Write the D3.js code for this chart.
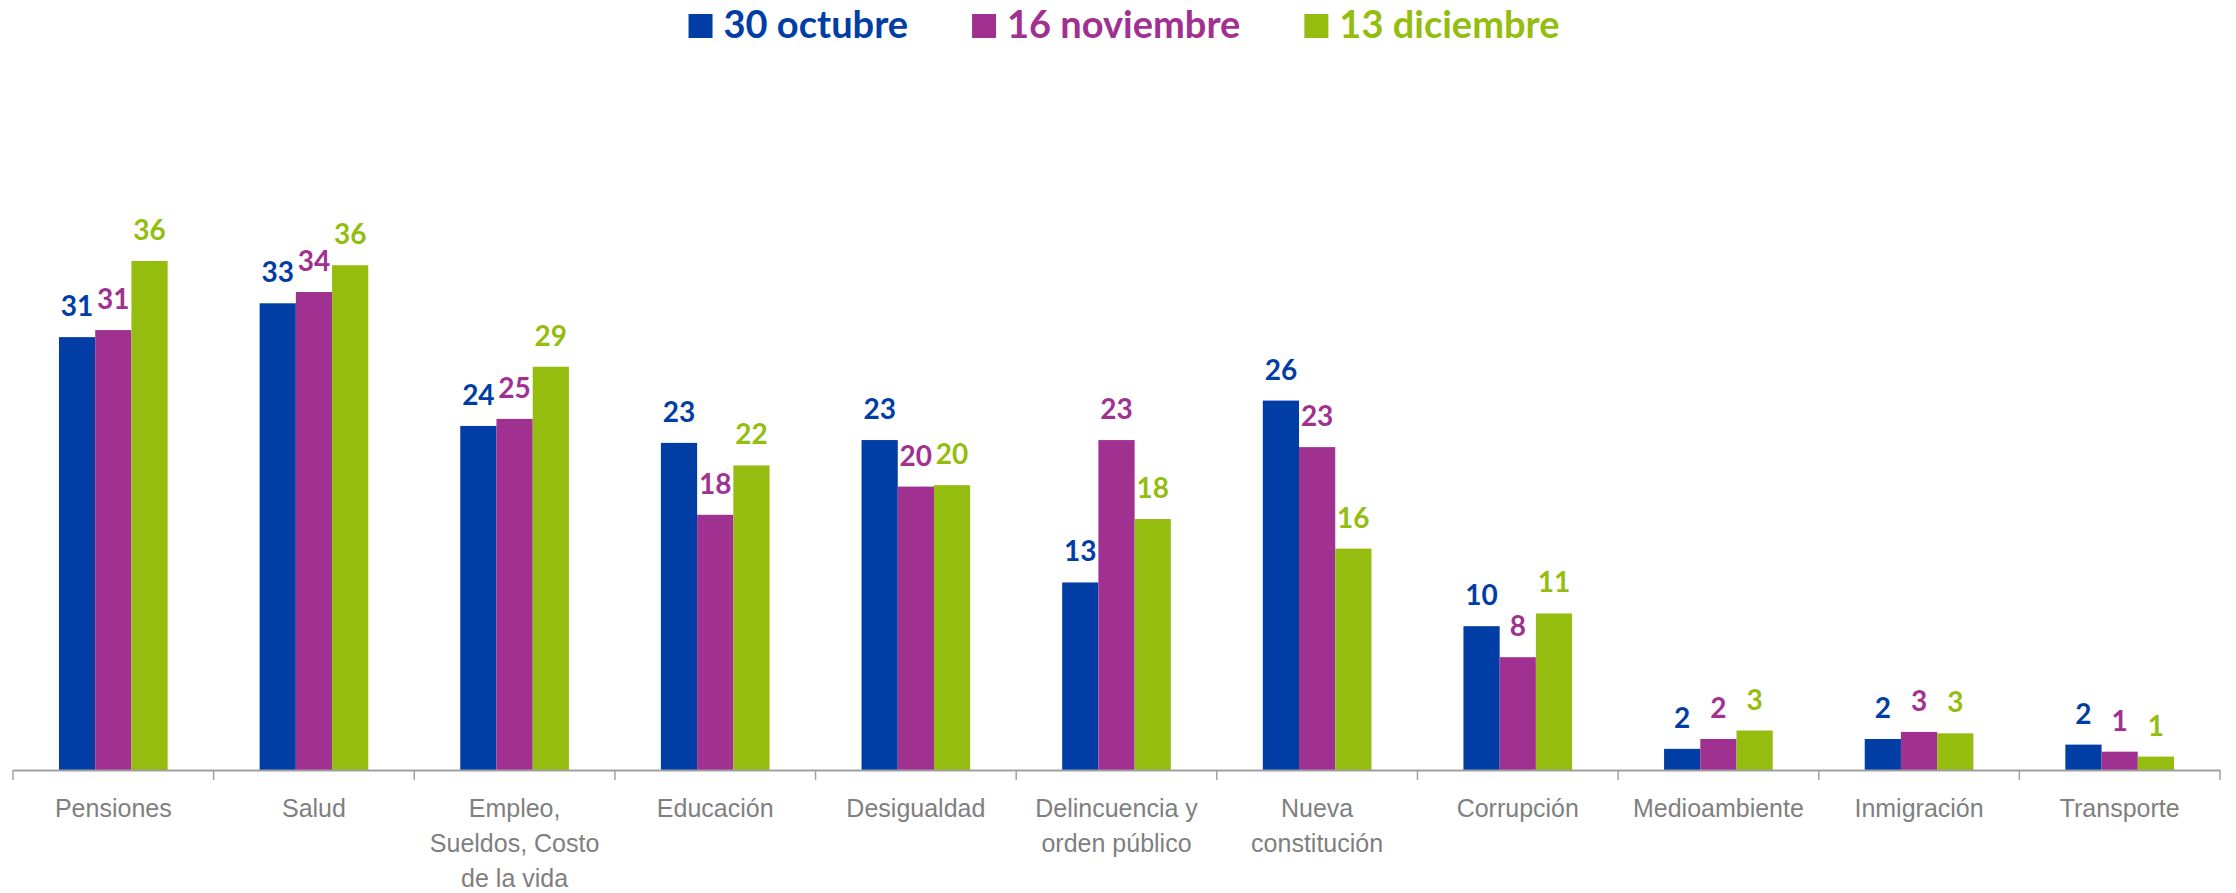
<!DOCTYPE html>
<html>
<head>
<meta charset="utf-8">
<script src="https://cdn.jsdelivr.net/npm/d3@7"></script>
<style>
  body { margin: 0; background: #fff; }
  svg { display: block; font-family: Lato, "Open Sans", sans-serif; }
</style>
</head>
<body>
<div id="chart"></div>
<script>
const categories = [
  "Pensiones", "Salud", "Empleo,\nSueldos, Costo\nde la vida", "Educación",
  "Desigualdad", "Delincuencia y\norden público", "Nueva\nconstitución",
  "Corrupción", "Medioambiente", "Inmigración", "Transporte"
];
const seriesNames = ["30 octubre", "16 noviembre", "13 diciembre"];
const octubre = [30.7, 33.1, 24.4, 23.2, 23.4, 13.3, 26.2, 10.2, 1.5, 2.2, 1.8];
const noviembre = [31.2, 33.9, 24.9, 18.1, 20.1, 23.4, 22.9, 8.0, 2.2, 2.7, 1.3];
const diciembre = [36.1, 35.8, 28.6, 21.6, 20.2, 17.8, 15.7, 11.1, 2.8, 2.6, 0.95];
const colors = ["#003da5", "#a03190", "#95bd0f"];

const width = 2236;
const height = 893;
const baseY = 770;

const svg = d3.select("#chart").append("svg")
  .attr("width", width)
  .attr("height", height);

const x0 = d3.scaleBand().domain(categories).range([13, 2220]).padding(0);
const x1 = d3.scaleBand().domain(seriesNames).range([0, x0.bandwidth()])
  .paddingInner(0).paddingOuter(1.27);
const y = d3.scaleLinear().domain([0, 40]).range([baseY, baseY - 564]);
const color = d3.scaleOrdinal().domain(seriesNames).range(colors);

const allSeries = [octubre, noviembre, diciembre];
const rows = categories.map((c, i) => ({
  cat: c,
  vals: seriesNames.map((s, j) => ({ series: s, value: allSeries[j][i] }))
}));

const groups = svg.selectAll(".grp")
  .data(rows)
  .enter().append("g")
  .attr("class", "grp")
  .attr("transform", d => `translate(${x0(d.cat)},0)`);

groups.selectAll("rect")
  .data(d => d.vals)
  .enter().append("rect")
  .attr("x", d => x1(d.series))
  .attr("y", d => y(d.value))
  .attr("width", x1.bandwidth())
  .attr("height", d => baseY - y(d.value))
  .attr("fill", d => color(d.series));

groups.selectAll("text.val")
  .data(d => d.vals)
  .enter().append("text")
  .attr("class", "val")
  .attr("x", d => x1(d.series) + x1.bandwidth() / 2)
  .attr("y", d => y(d.value) - 21)
  .attr("text-anchor", "middle")
  .style("font-size", "28px")
  .style("font-weight", "bold")
  .attr("fill", d => color(d.series))
  .text(d => Math.round(d.value));

// x axis
const axis = svg.append("g")
  .attr("transform", `translate(0,${baseY})`)
  .call(d3.axisBottom(x0).tickSize(0).tickSizeOuter(0).tickPadding(0));

axis.select(".domain").attr("stroke", "#a0a0a0").attr("stroke-width", 2);

axis.selectAll(".tick text")
  .attr("fill", "#7f7f7f")
  .style("font-size", "25px")
  .attr("y", 0)
  .attr("dy", null)
  .each(function (d) {
    const t = d3.select(this);
    t.text(null);
    d.split("\n").forEach((line, k) => {
      t.append("tspan").attr("x", 0).attr("y", 47 + k * 35).text(line);
    });
  });

const bounds = categories.map(c => x0(c)).concat([x0.range()[1]]);
axis.selectAll(".sep")
  .data(bounds)
  .enter().append("line")
  .attr("class", "sep")
  .attr("x1", d => d).attr("x2", d => d)
  .attr("y1", 0).attr("y2", 10)
  .attr("stroke", "#a0a0a0")
  .attr("stroke-width", 1.5);

// legend
const legend = svg.append("g");
const items = legend.selectAll("g")
  .data(seriesNames)
  .enter().append("g");

items.append("rect")
  .attr("width", 24).attr("height", 24)
  .attr("y", 14)
  .attr("fill", d => color(d));

items.append("text")
  .attr("x", 35)
  .attr("y", 38)
  .style("font-size", "38px")
  .style("font-weight", "bold")
  .attr("fill", d => color(d))
  .text(d => d);

let offset = 0;
items.each(function () {
  const g = d3.select(this);
  const w = 35 + g.select("text").node().getComputedTextLength();
  g.attr("transform", `translate(${offset},0)`);
  offset += w + 64;
});
const legendWidth = offset - 64;
legend.attr("transform", `translate(${1124 - legendWidth / 2},0)`);
</script>
</body>
</html>
